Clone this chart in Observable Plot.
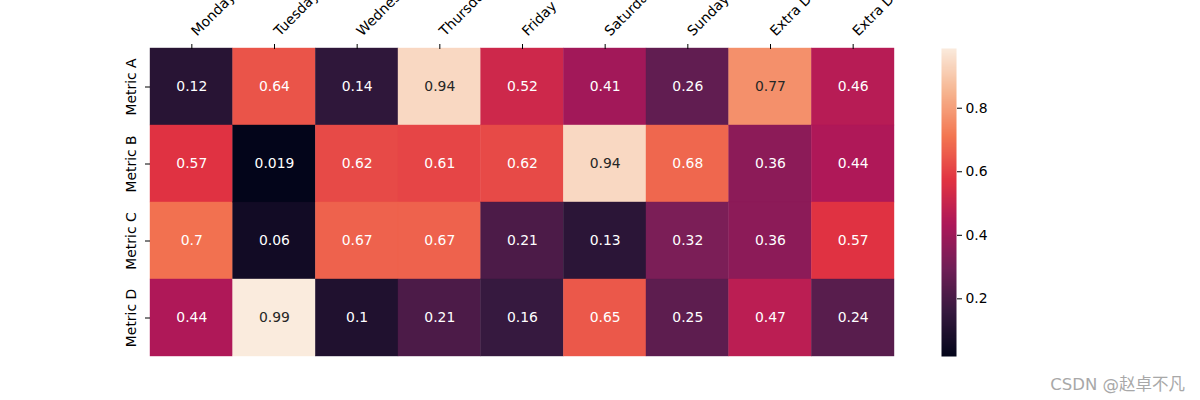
<!DOCTYPE html>
<html>
<head>
<meta charset="utf-8">
<script src="https://cdn.jsdelivr.net/npm/d3@7"></script>
<script src="https://cdn.jsdelivr.net/npm/@observablehq/plot@0.6"></script>
<style>
  html, body { margin: 0; padding: 0; background: #fff; }
  #wrap { position: relative; width: 1200px; height: 400px; overflow: hidden; font-family: "DejaVu Sans", sans-serif; }
  #main { position: absolute; left: 0; top: 0; }
  #cbar { position: absolute; left: 941px; top: 0; }
  #wm { position: absolute; right: 15px; top: 371px; font-size: 16.5px; color: #a8a8a8; font-family: "DejaVu Sans", "Noto Sans CJK SC", sans-serif; white-space: nowrap; }
</style>
</head>
<body>
<div id="wrap">
  <div id="main"></div>
  <div id="cbar"></div>
  <div id="wm">CSDN @赵卓不凡</div>
</div>
<script>
// ---- data ----
const days = ["Monday", "Tuesday", "Wednesday", "Thursday", "Friday", "Saturday", "Sunday", "Extra Day 1", "Extra Day 2"];
const metrics = ["Metric A", "Metric B", "Metric C", "Metric D"];
const metricA = [0.12, 0.64, 0.14, 0.94, 0.52, 0.41, 0.26, 0.77, 0.46];
const metricB = [0.57, 0.019, 0.62, 0.61, 0.62, 0.94, 0.68, 0.36, 0.44];
const metricC = [0.7, 0.06, 0.67, 0.67, 0.21, 0.13, 0.32, 0.36, 0.57];
const metricD = [0.44, 0.99, 0.1, 0.21, 0.16, 0.65, 0.25, 0.47, 0.24];
const colorbarTicks = [0.2, 0.4, 0.6, 0.8];
const vmin = 0.0185;
const vmax = 0.988;

// rocket colormap (seaborn) stops, evenly spaced
const rocketStops = ["#03051a", "#35193e", "#701f57", "#ad1759", "#e13342", "#f37651", "#f6b48f", "#faebdd"];
const rocket = d3.piecewise(d3.interpolateRgb, rocketStops);

const series = [metricA, metricB, metricC, metricD];
const table = [];
metrics.forEach((m, i) => days.forEach((d, j) => table.push({metric: m, day: d, value: series[i][j]})));

const colorOpts = {type: "linear", domain: [vmin, vmax], interpolate: () => rocket, clamp: true};

function lum(c) {
  const r = d3.rgb(c);
  const f = v => { v /= 255; return v <= 0.03928 ? v / 12.92 : Math.pow((v + 0.055) / 1.055, 2.4); };
  return 0.2126 * f(r.r) + 0.7152 * f(r.g) + 0.0722 * f(r.b);
}
const colorOf = v => rocket(Math.max(0, Math.min(1, (v - vmin) / (vmax - vmin))));
const fmt = d3.format(".2~g");
const textColor = v => (lum(colorOf(v)) > 0.33 ? "#262626" : "#ffffff");

const fontStyle = {fontFamily: "DejaVu Sans, sans-serif", fontSize: "13.9px", color: "#000", background: "transparent", overflow: "hidden"};

const main = Plot.plot({
  width: 1200,
  height: 400,
  marginLeft: 150,
  marginRight: 306,
  marginTop: 48,
  marginBottom: 44,
  style: fontStyle,
  x: {domain: days, padding: 0, round: false, axis: null},
  y: {domain: metrics, padding: 0, round: false, axis: null},
  color: colorOpts,
  marks: [
    Plot.cell(table, {x: "day", y: "metric", fill: "value", inset: 0, stroke: "value", strokeWidth: 0.4}),
    Plot.text(table, {x: "day", y: "metric", text: d => fmt(d.value), fill: d => textColor(d.value), fontSize: 13.9}),
    // x ticks
    Plot.axisX({anchor: "top", tickSize: 5, tickFormat: () => "", label: null, stroke: "#000"}),
    // x tick labels
    Plot.axisX({anchor: "top", tickRotate: -45, tickSize: 0, tickPadding: 12, dx: 2, dy: -3, label: null, textAnchor: "start", fill: "#000"}),
    Plot.axisY({anchor: "left", tickRotate: -90, tickSize: 5, tickPadding: 10, label: null, fill: "#000", stroke: "#000"})
  ]
});
document.getElementById("main").appendChild(main);

const cbar = Plot.plot({
  width: 60,
  height: 400,
  marginLeft: 0,
  marginRight: 45,
  marginTop: 48,
  marginBottom: 44,
  style: fontStyle,
  x: {domain: [0, 1], axis: null},
  y: {domain: [vmin, vmax], axis: null},
  color: colorOpts,
  marks: [
    Plot.raster({x1: 0, x2: 1, y1: vmin, y2: vmax, width: 1, height: 300, fill: (x, y) => y, imageRendering: "auto"}),
    Plot.axisY({anchor: "right", ticks: colorbarTicks, tickSize: 5, tickPadding: 4, label: null, tickFormat: d3.format(".1f"), stroke: "#000", fill: "#000"})
  ]
});
document.getElementById("cbar").appendChild(cbar);
</script>
</body>
</html>
